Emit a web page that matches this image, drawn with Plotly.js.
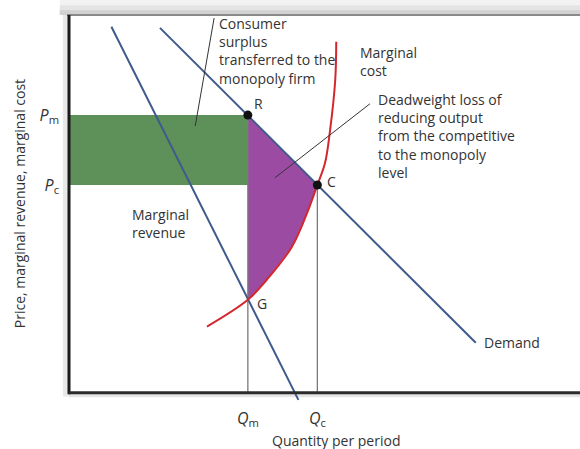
<!DOCTYPE html>
<html>
<head>
<meta charset="utf-8">
<script src="https://cdn.plot.ly/plotly-3.0.1.min.js"></script>
<style>
  html, body { margin: 0; padding: 0; background: #fff; }
  #chart { width: 580px; height: 449px; }
</style>
</head>
<body>
<div id="chart"></div>
<script>
// Monopoly vs competition: quantities and prices
const qM = 35, qC = 48.6;
const pM = 73.5, pC = 55, pG = 24.6;

// Demand and marginal revenue (end points)
const demandQ = [17.8, 79.6];
const demandP = [96.6, 13.2];
const mrQ = [8.3, 44.9];
const mrP = [96.9, -1.9];

// Marginal cost curve
const mcQ = [27.0, 35.0, 38.7, 43.6, 46.6, 48.6, 50.1, 51.1, 52.1, 52.3];
const mcP = [17.5, 24.6, 29.9, 38.6, 47.6, 55.0, 60.8, 69.6, 82.8, 92.9];

// Leader lines for the two notes
const csLineQ = [28.4, 24.7], csLineP = [99.2, 70.6];
const dwLineQ = [58.9, 40.3], dwLineP = [76.5, 56.9];

const blue = '#3f5a8c';
const red = '#d4262d';
const txt = '#333333';
const fnt = 'Open Sans, sans-serif';

// deadweight loss: R -> G along Qm, G -> C along MC, C -> R along demand
const dwX = [qM, qM].concat(mcQ.slice(1, 6), [qM]);
const dwY = [pM, pG].concat(mcP.slice(1, 6), [pM]);

const data = [
    {   // consumer surplus transferred
        x: [0, qM, qM, 0, 0], y: [pM, pM, pC, pC, pM],
        type: 'scatter', mode: 'lines', fill: 'toself',
        fillcolor: '#5e9159', line: { width: 0 }
    },
    {
        x: dwX, y: dwY,
        type: 'scatter', mode: 'lines', fill: 'toself',
        fillcolor: '#9b4ca2', line: { width: 0 }
    },
    {
        x: [qM, qM], y: [0, pM],
        type: 'scatter', mode: 'lines', line: { color: '#7a7a7a', width: 1.3 }
    },
    {
        x: [qC, qC], y: [0, pC],
        type: 'scatter', mode: 'lines', line: { color: '#7a7a7a', width: 1.3 }
    },
    {
        x: demandQ, y: demandP,
        type: 'scatter', mode: 'lines', line: { color: blue, width: 2 }
    },
    {
        x: mrQ, y: mrP,
        type: 'scatter', mode: 'lines', line: { color: blue, width: 2 }
    },
    {
        x: mcQ, y: mcP,
        type: 'scatter', mode: 'lines', line: { color: red, width: 2, shape: 'spline' }
    },
    {
        x: csLineQ, y: csLineP,
        type: 'scatter', mode: 'lines', line: { color: '#333', width: 1 }
    },
    {
        x: dwLineQ, y: dwLineP,
        type: 'scatter', mode: 'lines', line: { color: '#333', width: 1 }
    },
    {
        x: [qM, qC], y: [pM, pC],
        type: 'scatter', mode: 'markers', marker: { color: '#111', size: 9 }
    }
];

// paper coordinates of the frame
const y0 = 3 / 103;

const layout = {
    width: 580,
    height: 449,
    margin: { l: 69, r: 0, t: 15, b: 45 },
    paper_bgcolor: '#ffffff',
    plot_bgcolor: '#ffffff',
    showlegend: false,
    hovermode: false,
    font: { family: fnt, size: 14, color: txt },
    xaxis: {
        range: [0, 100],
        showgrid: false, zeroline: false, showline: false,
        tickvals: [qM, qC],
        ticktext: ['<i>Q</i><sub>m</sub>', '<i>Q</i><sub>c</sub>'],
        ticks: '',
        ticklabelstandoff: 3,
        tickfont: { family: fnt, size: 16, color: txt }
    },
    yaxis: {
        range: [-3, 100],
        showgrid: false, zeroline: false, showline: false,
        tickvals: [pM, pC],
        ticktext: ['<i>P</i><sub>m</sub>', '<i>P</i><sub>c</sub>'],
        ticks: '',
        ticklabelstandoff: 9,
        tickfont: { family: fnt, size: 16, color: txt }
    },
    shapes: [
        // top shadow band
        { type: 'rect', xref: 'paper', yref: 'paper', x0: -0.018, x1: 1, y0: 1.0, y1: 1.0386,
          fillcolor: '#f2f2f2', line: { width: 0 }, layer: 'below' },
        { type: 'rect', xref: 'paper', yref: 'paper', x0: -0.018, x1: 1, y0: 1.0, y1: 1.025,
          fillcolor: '#e4e4e4', line: { width: 0 }, layer: 'below' },
        { type: 'rect', xref: 'paper', yref: 'paper', x0: -0.018, x1: 1, y0: 1.0, y1: 1.012,
          fillcolor: '#d2d2d2', line: { width: 0 }, layer: 'below' },
        { type: 'line', xref: 'paper', yref: 'paper', x0: -0.004, x1: 1, y0: 1.0, y1: 1.0,
          line: { color: '#8a8a8a', width: 2 } },
        // left shadow
        { type: 'rect', xref: 'paper', yref: 'paper', x0: -0.012, x1: 0, y0: y0 - 0.01, y1: 1.0,
          fillcolor: '#e8e8e8', line: { width: 0 }, layer: 'below' },
        // bottom shadow
        { type: 'rect', xref: 'paper', yref: 'paper', x0: 0, x1: 1, y0: y0 - 0.012, y1: y0,
          fillcolor: '#e4e4e4', line: { width: 0 }, layer: 'below' },
        // axes
        { type: 'line', xref: 'paper', yref: 'paper', x0: 0, x1: 0, y0: y0 - 0.004, y1: 1.0,
          line: { color: '#1a1a1a', width: 3 } },
        { type: 'line', xref: 'paper', yref: 'paper', x0: 0, x1: 1, y0: y0, y1: y0,
          line: { color: '#2a2a2a', width: 3 } }
    ],
    annotations: [
        { x: 29.0, y: 90.5, xanchor: 'left', yanchor: 'middle', align: 'left', showarrow: false,
          text: 'Consumer<br>surplus<br>transferred to the<br>monopoly firm' },
        { x: 56.6, y: 87.6, xanchor: 'left', yanchor: 'middle', align: 'left', showarrow: false,
          text: 'Marginal<br>cost' },
        { x: 60.1, y: 67.9, xanchor: 'left', yanchor: 'middle', align: 'left', showarrow: false,
          text: 'Deadweight loss of<br>reducing output<br>from the competitive<br>to the monopoly<br>level' },
        { x: 11.9, y: 44.7, xanchor: 'left', yanchor: 'middle', align: 'left', showarrow: false,
          text: 'Marginal<br>revenue' },
        { x: 80.8, y: 13.2, xanchor: 'left', yanchor: 'middle', showarrow: false, text: 'Demand' },
        { x: 37.0, y: 76.5, xanchor: 'center', yanchor: 'middle', showarrow: false, text: 'R' },
        { x: 51.3, y: 55.8, xanchor: 'center', yanchor: 'middle', showarrow: false, text: 'C' },
        { x: 37.8, y: 23.5, xanchor: 'center', yanchor: 'middle', showarrow: false, text: 'G' },
        { xref: 'paper', yref: 'paper', x: 0.522, y: -0.093, xanchor: 'center', yanchor: 'middle',
          showarrow: false, text: 'Quantity per period' },
        { xref: 'paper', yref: 'paper', x: -0.098, y: 0.516, xanchor: 'center', yanchor: 'middle',
          showarrow: false, textangle: -90, text: 'Price, marginal revenue, marginal cost' }
    ]
};

Plotly.newPlot('chart', data, layout, { displayModeBar: false, staticPlot: true });
</script>
</body>
</html>
